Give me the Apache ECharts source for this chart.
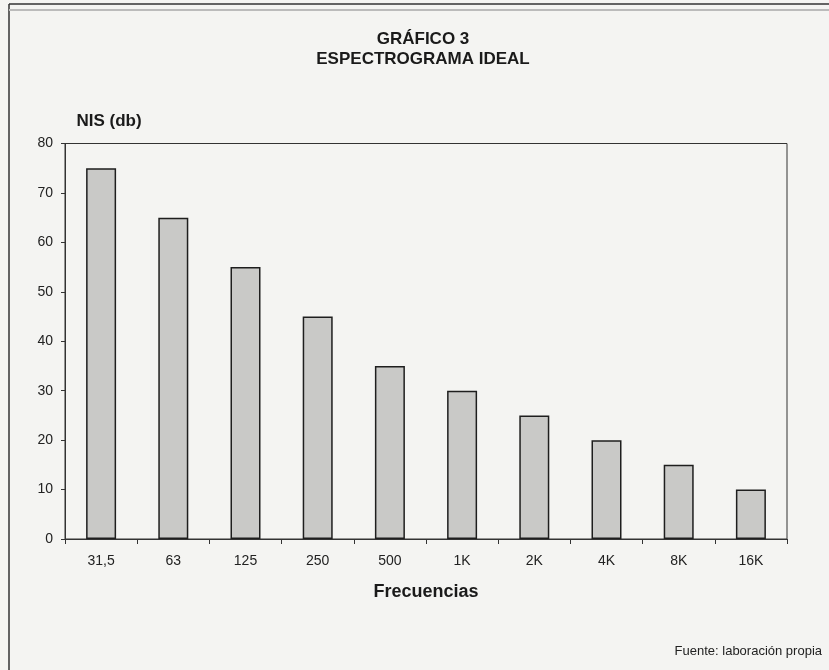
<!DOCTYPE html>
<html>
<head>
<meta charset="utf-8">
<script src="https://cdn.jsdelivr.net/npm/echarts@6/dist/echarts.min.js"></script>
<style>
  html, body { margin: 0; padding: 0; background: #f4f4f2; }
  #chart { width: 829px; height: 670px; }
</style>
</head>
<body>
<div id="chart"></div>
<script>
// Frequency bands (Hz) and ideal sound level per band (dB)
var frecuencias = ['31,5', '63', '125', '250', '500', '1K', '2K', '4K', '8K', '16K'];
var nivelDb = [75, 65, 55, 45, 35, 30, 25, 20, 15, 10];
var yTicks = { min: 0, max: 80, step: 10 };

var font = '"Liberation Sans", Arial, sans-serif';

var chart = echarts.init(document.getElementById('chart'));
chart.setOption({
  backgroundColor: '#f4f4f2',
  animation: false,
  title: [
    {
      text: 'GRÁFICO 3\nESPECTROGRAMA IDEAL',
      left: 418,
      textAlign: 'center',
      top: 24,
      textStyle: {
        fontFamily: font, fontSize: 17, fontWeight: 'bold',
        color: '#1a1a1a', lineHeight: 20
      }
    },
    {
      text: 'Fuente: laboración propia',
      right: 2,
      bottom: 7,
      textStyle: { fontFamily: font, fontSize: 13, fontWeight: 'normal', color: '#222' }
    }
  ],
  grid: {
    left: 65, right: 42, top: 143.5, bottom: 131,
    show: true, borderColor: '#333', borderWidth: 1, backgroundColor: 'transparent'
  },
  xAxis: {
    type: 'category',
    data: frecuencias,
    name: 'Frecuencias',
    nameLocation: 'middle',
    nameGap: 44,
    nameTextStyle: { fontFamily: font, fontSize: 18, fontWeight: 'bold', color: '#1a1a1a' },
    axisLine: { lineStyle: { color: '#333', width: 1.2 } },
    axisTick: { show: true, alignWithLabel: false, length: 5, lineStyle: { color: '#333' } },
    axisLabel: { fontFamily: font, fontSize: 14, color: '#222', margin: 15 }
  },
  yAxis: {
    type: 'value',
    min: yTicks.min, max: yTicks.max, interval: yTicks.step,
    name: 'NIS (db)',
    nameLocation: 'end',
    nameGap: 14,
    nameTextStyle: {
      fontFamily: font, fontSize: 17, fontWeight: 'bold', color: '#1a1a1a',
      align: 'center', padding: [0, 0, 0, 88]
    },
    axisLine: { show: true, lineStyle: { color: '#333', width: 1 } },
    axisTick: { show: true, length: 4, lineStyle: { color: '#333' } },
    splitLine: { show: false },
    axisLabel: { fontFamily: font, fontSize: 14, color: '#222', margin: 12 }
  },
  series: [{
    type: 'bar',
    data: nivelDb,
    barWidth: 30,
    itemStyle: { color: '#c9c9c7', borderColor: '#1e1e1e', borderWidth: 1.5 }
  }],
  graphic: [
    { type: 'line', shape: { x1: 9, y1: 4, x2: 9, y2: 670 }, style: { stroke: '#333', lineWidth: 1.5 } },
    { type: 'line', shape: { x1: 9, y1: 4, x2: 829, y2: 4 }, style: { stroke: '#333', lineWidth: 1.5 } },
    { type: 'line', shape: { x1: 9, y1: 10, x2: 829, y2: 10 }, style: { stroke: '#bbb', lineWidth: 2 } }
  ]
});
</script>
</body>
</html>
